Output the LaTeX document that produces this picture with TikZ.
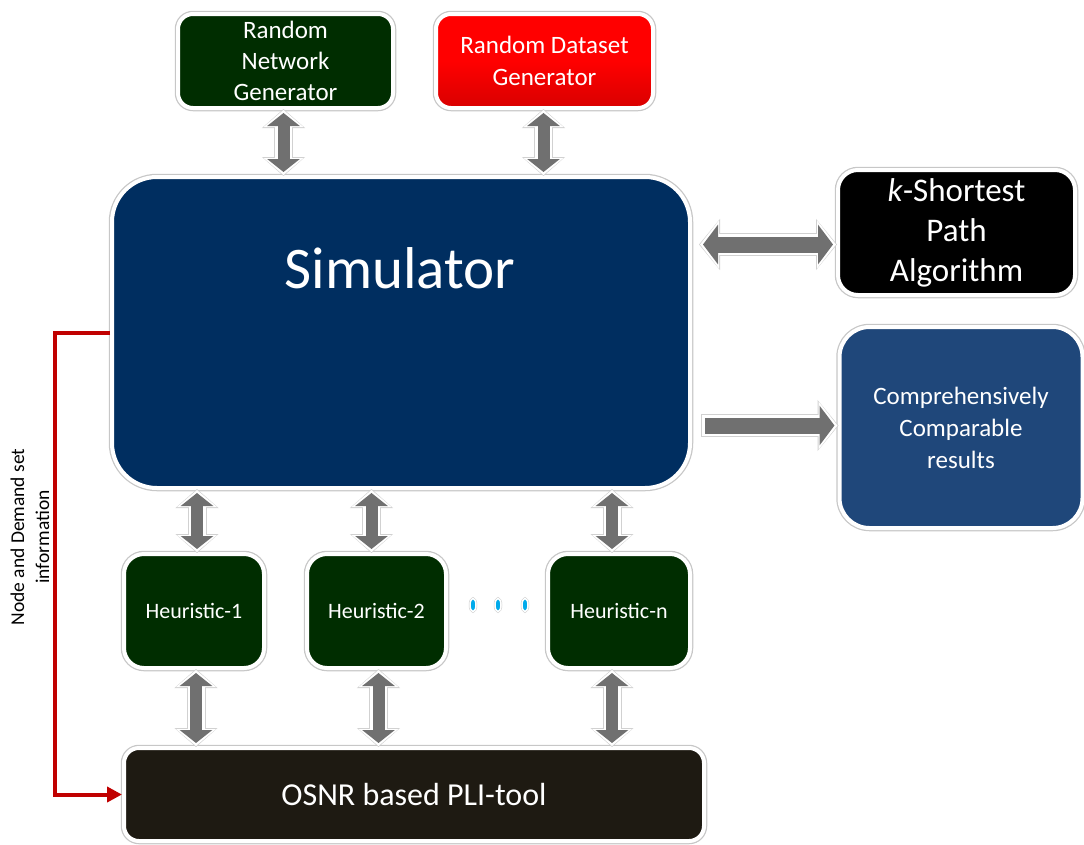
\documentclass[tikz,border=0pt]{standalone}
\usepackage{fontspec}
\setmainfont{Carlito}
\usetikzlibrary{arrows.meta, calc, shapes.geometric, shadows}

\definecolor{heurgreen}{RGB}{0,45,0}
\definecolor{simblue}{RGB}{0,46,96}
\definecolor{resblue}{RGB}{31,71,122}
\definecolor{plibrown}{RGB}{30,26,18}
\definecolor{arrowgray}{RGB}{112,112,112}
\definecolor{infored}{RGB}{192,0,0}
\definecolor{dotblue}{RGB}{0,170,235}

\begin{document}
\begin{tikzpicture}[x=1pt,y=-1pt,
    box/.style={draw=white, line width=4pt, rounded corners=#1, text=white, align=center,
        inner sep=0pt, drop shadow={shadow xshift=1.5pt, shadow yshift=-2.5pt, opacity=0.3},
        preaction={draw=black!22, line width=6.5pt}},
    box/.default=15pt,
    vfat/.style={draw=arrowgray, line width=12pt, {Triangle[width=32pt,length=13pt]}-{Triangle[width=32pt,length=13pt]},
        shorten <=3pt, shorten >=3pt,
        preaction={draw=black!18, line width=19pt, {Triangle[width=42pt,length=19pt]}-{Triangle[width=42pt,length=19pt]},
        shorten <=-1pt, shorten >=-1pt},
        preaction={draw=white, line width=17pt, {Triangle[width=39pt,length=17pt]}-{Triangle[width=39pt,length=17pt]},
        shorten <=0pt, shorten >=0pt}},
    hfat/.style={draw=arrowgray, line width=16pt, {Triangle[width=39pt,length=15pt]}-{Triangle[width=39pt,length=15pt]},
        shorten <=3pt, shorten >=3pt,
        preaction={draw=black!18, line width=23pt, {Triangle[width=50pt,length=21pt]}-{Triangle[width=50pt,length=21pt]},
        shorten <=-1pt, shorten >=-1pt},
        preaction={draw=white, line width=21pt, {Triangle[width=47pt,length=19pt]}-{Triangle[width=47pt,length=19pt]},
        shorten <=0pt, shorten >=0pt}},
    hone/.style={draw=arrowgray, line width=16pt, -{Triangle[width=39pt,length=15pt]},
        shorten <=3pt, shorten >=3pt,
        preaction={draw=black!18, line width=23pt, -{Triangle[width=50pt,length=21pt]},
        shorten <=-1pt, shorten >=-1pt},
        preaction={draw=white, line width=21pt, -{Triangle[width=47pt,length=19pt]},
        shorten <=0pt, shorten >=0pt}},
    dotmark/.style={ellipse, draw=white, line width=1.5pt, fill=dotblue, minimum width=6pt, minimum height=13pt,
        inner sep=0pt, preaction={draw=black!20, line width=2.5pt}}
    ]
    \useasboundingbox (0,0) rectangle (1084,844);

    % the generators on top
    \node[box, fill=heurgreen, minimum width=215pt, minimum height=94pt, font=\fontsize{25}{31}\selectfont]
        (rng) at (285.5,61) {Random\\Network\\Generator};
    \node[box, top color=red, bottom color=red!85!black, middle color=red, minimum width=217pt, minimum height=94pt,
        font=\fontsize{25}{32}\selectfont]
        (rdg) at (544.5,61) {Random Dataset\\Generator};

    % the simulator
    \node[box=45pt, fill=simblue, minimum width=578pt, minimum height=311pt] (sim) at (401,332.5) {};
    \node[text=white, font=\fontsize{59}{60}\selectfont] (simtitle) at (400,268) {Simulator};

    % the boxes on the right
    \node[box=20pt, fill=black, minimum width=237pt, minimum height=125pt, font=\fontsize{33}{40}\selectfont]
        (ksp) at (956.5,232.5) {\textit{k}-Shortest\\Path\\Algorithm};
    \node[box=30pt, fill=resblue, minimum width=243pt, minimum height=201pt, font=\fontsize{25}{32}\selectfont]
        (res) at (961,427.5) {Comprehensively\\Comparable\\results};

    % the heuristics
    \node[box=20pt, fill=heurgreen, minimum width=140pt, minimum height=114pt, font=\fontsize{22}{26}\selectfont]
        (h1) at (194,611) {Heuristic-1};
    \node[box=20pt, fill=heurgreen, minimum width=139pt, minimum height=114pt, font=\fontsize{22}{26}\selectfont]
        (h2) at (376.5,611) {Heuristic-2};
    \node[box=20pt, fill=heurgreen, minimum width=142pt, minimum height=114pt, font=\fontsize{22}{26}\selectfont]
        (hn) at (619,611) {Heuristic-n};
    \node[dotmark] (d1) at (473,605) {};
    \node[dotmark] (d2) at (498,605) {};
    \node[dotmark] (d3) at (525,605) {};

    % the PLI tool
    \node[box, fill=plibrown, minimum width=580pt, minimum height=93pt, font=\fontsize{32}{36}\selectfont]
        (pli) at (414,794.5) {OSNR based PLI-tool};

    % the block arrows
    \draw[vfat] (rng.south) ++(-2,0) coordinate (a1) -- (a1 |- sim.north);
    \draw[vfat] (rdg.south) ++(-1,0) coordinate (a2) -- (a2 |- sim.north);
    \draw[hfat] ($(sim.east)+(8,-88)$) coordinate (a3) -- (a3 -| ksp.west);
    \draw[hone] ($(sim.east)+(10,93)$) coordinate (a4) -- (a4 -| res.west);
    \draw[vfat] (h1.north) ++(3,0) coordinate (b1) -- (b1 |- sim.south);
    \draw[vfat] (h2.north) ++(-5,0) coordinate (b2) -- (b2 |- sim.south);
    \draw[vfat] (hn.north) ++(-7,0) coordinate (b3) -- (b3 |- sim.south);
    \draw[vfat] (h1.south) ++(2,0) coordinate (c1) -- (c1 |- pli.north);
    \draw[vfat] (h2.south) ++(2,0) coordinate (c2) -- (c2 |- pli.north);
    \draw[vfat] (hn.south) ++(-7,0) coordinate (c3) -- (c3 |- pli.north);

    % the information line
    \draw[infored, line width=4pt, -{Triangle[width=15pt,length=15pt]}]
        (sim.west) -- ++(-55,0) coordinate (bend) |- (pli.west);
    \node[rotate=90, align=center, font=\fontsize{19.5}{25}\selectfont] (info) at (30,537)
        {Node and Demand set\\information};
\end{tikzpicture}
\end{document}
